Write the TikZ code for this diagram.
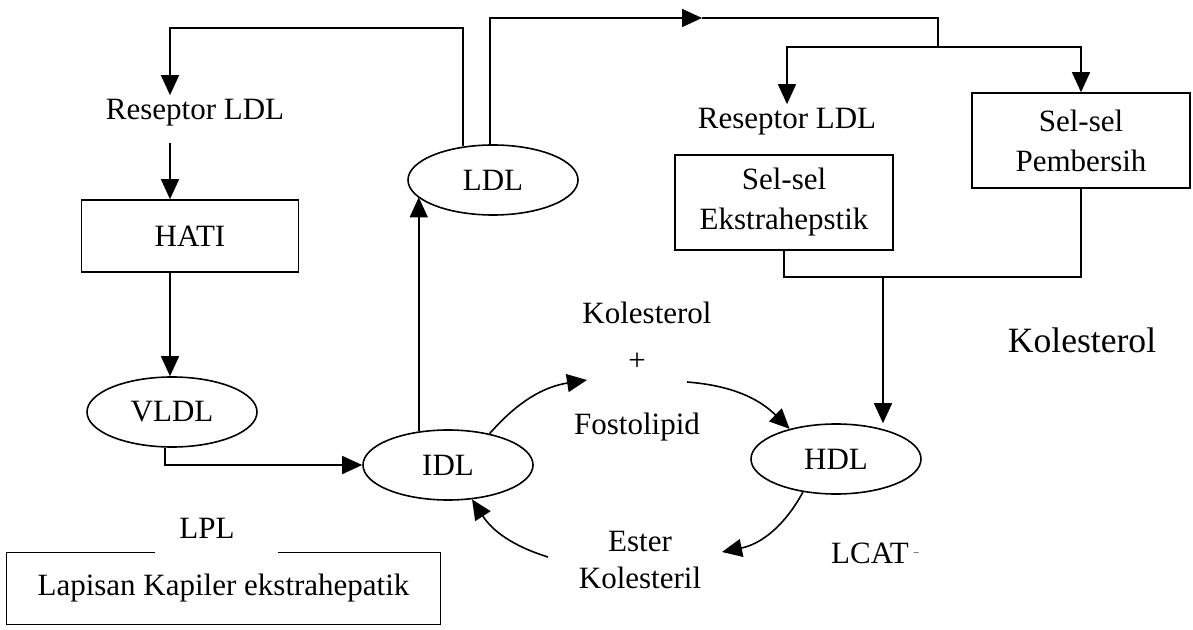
\documentclass[tikz,border=0pt]{standalone}
\usepackage{fontspec}
\setmainfont{Liberation Serif}
\usetikzlibrary{arrows.meta,shapes.geometric}

\begin{document}
\begin{tikzpicture}
        [x=0.5pt, y=-0.5pt,
        lipid/.style={ellipse, draw, thick, minimum width=85pt, minimum height=35pt, inner sep=0pt, font=\fontsize{15.5}{18}\selectfont},
        organ/.style={rectangle, draw, thick, align=center, inner sep=0pt, font=\fontsize{15.5}{20}\selectfont},
        txt/.style={align=center, inner sep=2pt, font=\fontsize{15.5}{18}\selectfont},
        arr/.style={thick, -{Triangle[length=10pt, width=9pt]}}]
        \useasboundingbox (0,0) rectangle (1193,630);

        \node[txt] (resL) at (195,113) {Reseptor LDL};
        \node[organ, minimum width=108.5pt, minimum height=36pt] (hati) at (190,236) {HATI};
        \node[lipid] (VLDL) at (172,412) {VLDL};
        \node[lipid] (IDL) at (448,465) {IDL};
        \node[lipid] (LDL) at (493,180) {LDL};
        \node[lipid] (HDL) at (836,459) {HDL};
        \node[txt] (resR) at (787,122) {Reseptor LDL};
        \node[organ, minimum width=109pt, minimum height=47.5pt] (ekstra) at (784,202.5) {Sel-sel\\Ekstrahepstik};
        \node[organ, minimum width=109pt, minimum height=47.5pt] (pemb) at (1081,140.5) {Sel-sel\\Pembersih};
        \node[txt] (kolA) at (647,313) {Kolesterol};
        \node[txt] (plus) at (637,362) {+};
        \node[txt] (fosA) at (637,427) {Fostolipid};
        \node[txt] (ester) at (640,560) {Ester\\Kolesteril};
        \node[txt] (lcat) at (875,553) {LCAT\,\raisebox{.5ex}{\tiny --}};
        \node[txt, font=\fontsize{17.8}{20}\selectfont] (kolB) at (1082,340) {Kolesterol};
        \node[txt] (lpl) at (207,528) {LPL};
        \node[txt, minimum width=216.5pt, minimum height=35.5pt] (lapis) at (223.5,588.5) {Lapisan Kapiler ekstrahepatik};

        \coordinate (topL) at (170,28);
        \coordinate (resLbot) at (170,143);
        \coordinate (tipR) at (702,18);
        \coordinate (topR) at (938,18);
        \coordinate (branch) at (938,47);
        \coordinate (join) at (883,277);
        \coordinate (kfA) at (587,380);
        \coordinate (kfB) at (687,382);
        \coordinate (esA) at (722,552);
        \coordinate (esB) at (548,557);

        \draw[arr] (LDL.132) |- (topL) -- (resL.north -| topL);
        \draw[arr] (resLbot) -- (hati.north -| resLbot);
        \draw[arr] (hati.south -| topL) -- (VLDL.north -| topL);
        \draw[arr] ([xshift=-3.5pt]VLDL.south) |- (IDL.west);
        \draw[arr] (IDL.131) -- (IDL.131 |- LDL.193);

        \draw[arr] (LDL.95) |- (tipR);
        \draw[thick] (tipR) -- (topR) -- (branch);
        \draw[arr] (branch) -| (resR.north);
        \draw[arr] (branch) -| (pemb.north);

        \draw[thick] (ekstra.south) |- (join) -| (pemb.south);
        \draw[arr] (join) -- (join |- HDL.north);

        \draw[arr] (IDL.37) to[bend left=20] (kfA);
        \draw[arr] (kfB) to[bend left=20] (HDL.147);
        \draw[arr] (HDL.225) to[bend left=25] (esA);
        \draw[arr] (esB) to[bend left=20] (IDL.305);

        \draw[thick] ([xshift=74pt]lapis.north west) -- (lapis.north west) -- (lapis.south west) -- (lapis.south east) -- (lapis.north east) -- ([xshift=-81pt]lapis.north east);
\end{tikzpicture}
\end{document}
